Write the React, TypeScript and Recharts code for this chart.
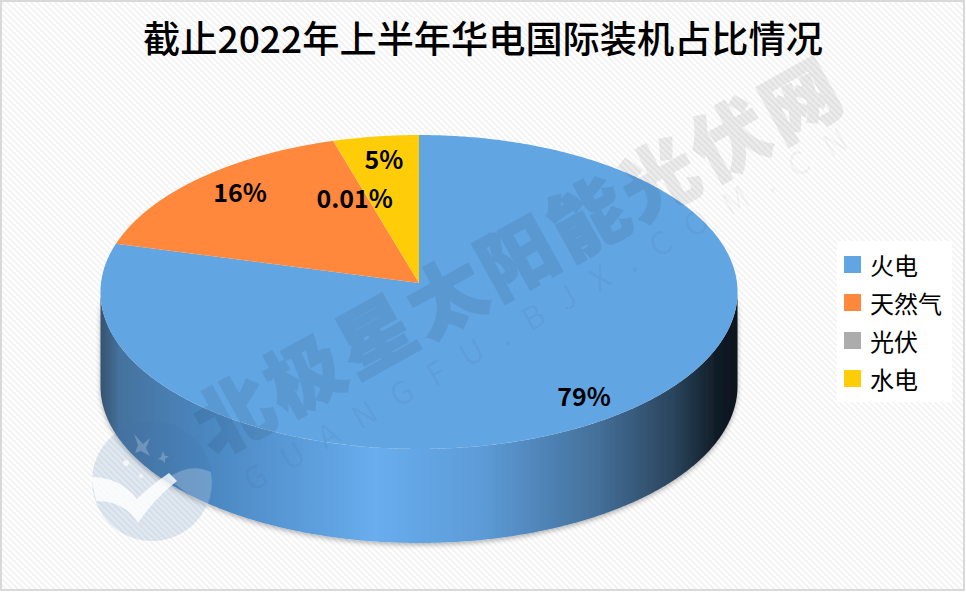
import React from "react";
import { PieChart, Pie, Legend } from "recharts";

const title = "截止2022年上半年华电国际装机占比情况";
const categories = ["火电", "天然气", "光伏", "水电"];
const shares = [79.1, 16.3, 0.01, 4.59];
const shareLabels = ["79%", "16%", "0.01%", "5%"];
const colors = ["#62a5e3", "#ff883d", "#acacac", "#ffcd08"];
const watermarkMain = "北极星太阳能光伏网";
const watermarkSub = "GUANGFU.BJX.COM.CN";

const tableRows = categories.map((name, i) => ({ name, value: shares[i], label: shareLabels[i], fill: colors[i] }));

const W = 966;
const H = 593;
const TILT = 0.492;
const PERSPECTIVE = 0.0573;
const DEPTH = 94;
const CJK = '"Noto Sans CJK SC", "Noto Sans", sans-serif';
const LABEL_FRACTION = 0.8;
const LABEL_NUDGE = [
  [4, 9],
  [-2, -8],
  [5, 29],
  [0, -7],
];

function project(cx: number, cy: number, r: number, angleDeg: number, fraction = 1) {
  const a = (angleDeg * Math.PI) / 180;
  const u = Math.cos(a) * fraction;
  const v = Math.sin(a) * fraction;
  const d = 1 + PERSPECTIVE * v;
  return { x: cx + (r * u) / d, y: cy - (r * TILT * v) / d };
}

function arcPoints(cx: number, cy: number, r: number, from: number, to: number) {
  const n = Math.max(2, Math.ceil(Math.abs(to - from) * 2));
  const pts = [];
  for (let i = 0; i <= n; i += 1) pts.push(project(cx, cy, r, from + ((to - from) * i) / n));
  return pts;
}

const toPath = (pts: { x: number; y: number }[]) =>
  pts.map((p, i) => `${i ? "L" : "M"}${p.x.toFixed(2)},${p.y.toFixed(2)}`).join(" ");

function TiltedSector(props: any) {
  const { cx, cy, outerRadius, startAngle, endAngle, fill } = props;
  const hi = Math.max(startAngle, endAngle);
  const lo = Math.min(startAngle, endAngle);
  const rim = arcPoints(cx, cy, outerRadius, hi, lo);
  const frontHi = Math.min(hi, -3.3);
  const frontLo = Math.max(lo, -176.7);
  let wall = null;
  if (frontHi > frontLo) {
    const top = arcPoints(cx, cy, outerRadius, frontHi, frontLo);
    const bottom = top.map((p) => ({ x: p.x, y: p.y + DEPTH })).reverse();
    wall = <path d={`${toPath(top.concat(bottom))} Z`} fill="url(#wallShade)" filter="url(#wallShadow)" />;
  }
  return (
    <g>
      {wall}
      <path d={`${toPath([{ x: cx, y: cy }, ...rim])} Z`} fill={fill} stroke="none" />
    </g>
  );
}

function SliceLabel(props: any) {
  const { cx, cy, outerRadius, midAngle, index } = props;
  const p = project(cx, cy, outerRadius, midAngle, LABEL_FRACTION);
  return (
    <text
      x={p.x + LABEL_NUDGE[index][0]}
      y={p.y + LABEL_NUDGE[index][1]}
      textAnchor="middle"
      dominantBaseline="central"
      fontFamily={CJK}
      fontWeight={700}
      fontSize={25}
      fill="#000"
    >
      {tableRows[index].label}
    </text>
  );
}

function LegendBox({ payload }: any) {
  return (
    <div style={{ background: "#fff", width: 115, height: 161, position: "relative", fontFamily: CJK }}>
      {(payload || []).map((entry: any, i: number) => (
        <div key={entry.value} style={{ position: "absolute", left: 7, top: 15 + i * 38, height: 17, display: "flex", alignItems: "center" }}>
          <span style={{ width: 17, height: 17, background: entry.color, display: "inline-block" }} />
          <span style={{ marginLeft: 9, fontSize: 24, lineHeight: "15px", color: "#000", whiteSpace: "nowrap" }}>{entry.value}</span>
        </div>
      ))}
    </div>
  );
}

export default function App() {
  return (
    <div
      style={{
        position: "absolute",
        left: 0,
        top: 0,
        width: W,
        height: H,
        overflow: "hidden",
        background: "#fff",
      }}
    >
      <div
        style={{
          position: "absolute",
          left: 0,
          top: 0,
          width: 965,
          height: 591,
          boxSizing: "border-box",
          border: "2px solid #d9d9d9",
          background: "repeating-linear-gradient(45deg,#ffffff 0 2.1px,#f4f4f4 2.1px 4.24px)",
        }}
      />
      <div style={{ position: "absolute", left: 0, top: 0 }}>
        <PieChart width={W} height={H} margin={{ top: 0, right: 0, bottom: 0, left: 0 }}>
          <defs>
            <linearGradient id="wallShade" x1="0" y1="0" x2="1" y2="0">
              <stop offset="0" stopColor="#35536f" />
              <stop offset="0.03" stopColor="#45729e" />
              <stop offset="0.16" stopColor="#4a86bf" />
              <stop offset="0.36" stopColor="#5fa2e1" />
              <stop offset="0.43" stopColor="#69adee" />
              <stop offset="0.6" stopColor="#5c9bd7" />
              <stop offset="0.78" stopColor="#44709a" />
              <stop offset="0.9" stopColor="#2a445c" />
              <stop offset="0.97" stopColor="#0f1b25" />
              <stop offset="1" stopColor="#0b141c" />
            </linearGradient>
            <filter id="wallShadow" x="-5%" y="-5%" width="110%" height="115%">
              <feDropShadow dx="0" dy="2" stdDeviation="2.5" floodColor="#000" floodOpacity="0.3" />
            </filter>
          </defs>
          <Pie
            data={tableRows}
            dataKey="value"
            nameKey="name"
            cx={419}
            cy={283}
            outerRadius={318}
            startAngle={90}
            endAngle={-270}
            stroke="none"
            isAnimationActive={false}
            shape={TiltedSector}
            inactiveShape={TiltedSector}
            label={SliceLabel}
            labelLine={false}
          />
          <Legend
            layout="vertical"
            align="right"
            verticalAlign="middle"
            itemSorter={null}
            content={LegendBox}
            wrapperStyle={{ position: "absolute", left: 837, top: 241, width: 115, height: 161 }}
          />
        </PieChart>
      </div>
      <svg width={W} height={H} style={{ position: "absolute", left: 0, top: 0, pointerEvents: "none" }}>
        <text x={483} y={53} textAnchor="middle" fontFamily={CJK} fontWeight={500} fontSize={37.2} fill="#000">
          {title}
        </text>
        <g>
          <circle cx={152} cy={481} r={60} fill="rgba(60,110,170,0.16)" />
          <path d="M91,477 Q120,477 137,499 Q150,486 169,473 L177,481 Q155,498 138,523 Q125,501 96,501 Z" fill="rgba(255,255,255,0.8)" />
          <circle cx={126} cy={463} r={3} fill="rgba(255,255,255,0.7)" />
          <circle cx={141} cy={476} r={2} fill="rgba(255,255,255,0.7)" />
          <path d="M168,478 Q190,462 211,472 Q214,490 207,506 Q186,494 168,478 Z" fill="rgba(255,255,255,0.22)" />
          <path d="M134,434 L143,444 L150,438 L146,448 L150,456 L141,451 L135,453 L138,445 Z" fill="rgba(255,255,255,0.22)" />
          <path d="M163,451 L165,456 L169,456 L165,459 L165,463 L162,460 L158,459 L161,457 Z" fill="rgba(255,255,255,0.22)" />
        </g>
        <g opacity={0.07}>
          <text
            x={517}
            y={252}
            transform="rotate(-29 517 252)"
            textAnchor="middle"
            dominantBaseline="central"
            fontFamily={CJK}
            fontWeight={900}
            fontSize={76}
            letterSpacing={5}
            fill="#000"
            stroke="#000"
            strokeWidth={2}
          >
            {watermarkMain}
          </text>
        </g>
        <text
          x={553}
          y={303}
          transform="rotate(-30 553 303)"
          textAnchor="middle"
          dominantBaseline="central"
          fontFamily={CJK}
          fontWeight={500}
          fontSize={32}
          letterSpacing={20}
          fill="rgba(0,0,0,0.03)"
        >
          {watermarkSub}
        </text>
      </svg>
    </div>
  );
}
